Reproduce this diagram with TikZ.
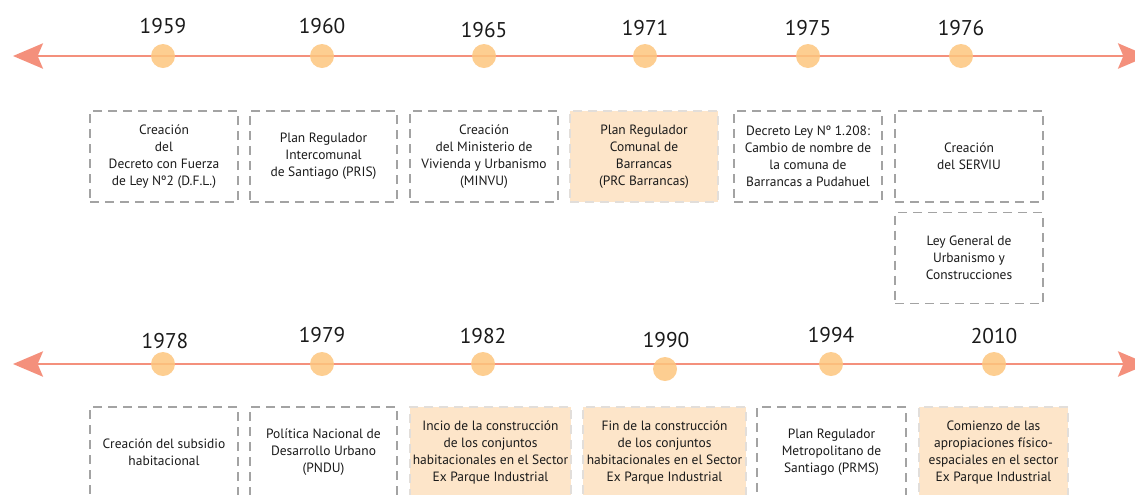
\documentclass[tikz,border=0pt]{standalone}
\usepackage{fontspec}
\setmainfont{PT Sans}
\usetikzlibrary{arrows.meta}
\definecolor{axiscol}{HTML}{F4907C}
\definecolor{dotcol}{HTML}{FDC57E}
\definecolor{peach}{HTML}{FDE5C9}
\definecolor{dashcol}{HTML}{A3A3A3}
\definecolor{paledash}{HTML}{E2DEDA}
\definecolor{ink}{HTML}{1A1A1A}
\begin{document}
\begin{tikzpicture}[x=0.75pt,y=-0.75pt,
  axisline/.style={draw=axiscol,line width=1.5pt,
    {Stealth[length=22.5pt,width=19pt,inset=4pt]}-{Stealth[length=22.5pt,width=19pt,inset=4pt]}},
  dotnode/.style={circle,fill=dotcol,fill opacity=0.85,minimum size=18pt,inner sep=0pt},
  yearlbl/.style={font=\fontsize{16}{18}\selectfont,text=ink,anchor=base,inner sep=0pt},
  evbox/.style={draw=dashcol,line width=1.1pt,dash pattern=on 6.75pt off 4.5pt,
    minimum height=68.25pt,inner sep=0pt,align=center,text=ink,
    font=\fontsize{10.1}{12.75}\selectfont},
  hlbox/.style={evbox,draw=paledash,fill=peach},
  boxw/.style={minimum width=#1*0.75pt}
]
\useasboundingbox (0,0) rectangle (1135,494);
\clip (0,0) rectangle (1135,494);

% ---------- upper timeline ----------
\coordinate (uL) at (13,56);
\coordinate (uR) at (1148,56);
\draw[axisline] (uL) -- (uR);

\node[dotnode] (d1959) at (163,56) {};
\node[dotnode] (d1960) at (322,56) {};
\node[dotnode] (d1965) at (484,56) {};
\node[dotnode] (d1971) at (645,56) {};
\node[dotnode] (d1975) at (808,56) {};
\node[dotnode] (d1976) at (961,56) {};

\node[yearlbl] (y1959) at (163,33) {1959};
\node[yearlbl] (y1960) at (322,33) {1960};
\node[yearlbl] (y1965) at (484,37) {1965};
\node[yearlbl] (y1971) at (645,35) {1971};
\node[yearlbl] (y1975) at (808,35) {1975};
\node[yearlbl] (y1976) at (961,35) {1976};

\node[evbox,boxw=148] (e1959) at (164,156.5)
  {Creación\\del\\Decreto con Fuerza\\de Ley Nº2 (D.F.L.)};
\node[evbox,boxw=147] (e1960) at (323.5,156.5)
  {Plan Regulador\\Intercomunal\\de Santiago (PRIS)};
\node[evbox,boxw=148] (e1965) at (484,156.5)
  {Creación\\del Ministerio de\\Vivienda y Urbanismo\\(MINVU)};
\node[hlbox,boxw=148] (e1971) at (644,156.5)
  {Plan Regulador\\Comunal de\\Barrancas\\(PRC Barrancas)};
\node[evbox,boxw=148] (e1975) at (808,156.5)
  {Decreto Ley Nº 1.208:\\Cambio de nombre de\\la comuna de\\Barrancas a Pudahuel};
\node[evbox,boxw=148] (e1976a) at (969,156.5)
  {Creación\\del SERVIU};
\node[evbox,boxw=148] (e1976b) at (969,258)
  {Ley General de\\Urbanismo y\\Construcciones};

% ---------- lower timeline ----------
\coordinate (lL) at (13,364);
\coordinate (lR) at (1148,364);
\draw[axisline] (lL) -- (lR);

\node[dotnode] (d1978) at (163,364) {};
\node[dotnode] (d1979) at (322,364) {};
\node[dotnode] (d1982) at (483,364) {};
\node[dotnode] (d1990) at (665,369) {};
\node[dotnode] (d1994) at (831,364) {};
\node[dotnode] (d2010) at (994,364) {};

\node[yearlbl] (y1978) at (165,348) {1978};
\node[yearlbl] (y1979) at (322,342) {1979};
\node[yearlbl] (y1982) at (483,343) {1982};
\node[yearlbl] (y1990) at (666,347) {1990};
\node[yearlbl] (y1994) at (831,342) {1994};
\node[yearlbl] (y2010) at (994,343) {2010};

\node[evbox,boxw=148] (e1978) at (164,452.5)
  {Creación del subsidio\\habitacional};
\node[evbox,boxw=147] (e1979) at (323.5,452.5)
  {Política Nacional de\\Desarrollo Urbano\\(PNDU)};
\node[hlbox,boxw=161] (e1982) at (490.5,452.5)
  {Incio de la construcción\\de los conjuntos\\habitacionales en el Sector\\Ex Parque Industrial};
\node[hlbox,boxw=163] (e1990) at (664.5,452.5)
  {Fin de la construcción\\de los conjuntos\\habitacionales en el Sector\\Ex Parque Industrial};
\node[evbox,boxw=149] (e1994) at (831.5,452.5)
  {Plan Regulador\\Metropolitano de\\Santiago (PRMS)};
\node[hlbox,boxw=149] (e2010) at (993.5,452.5)
  {Comienzo de las\\apropiaciones físico-\\espaciales en el sector\\Ex Parque Industrial};
\end{tikzpicture}
\end{document}
